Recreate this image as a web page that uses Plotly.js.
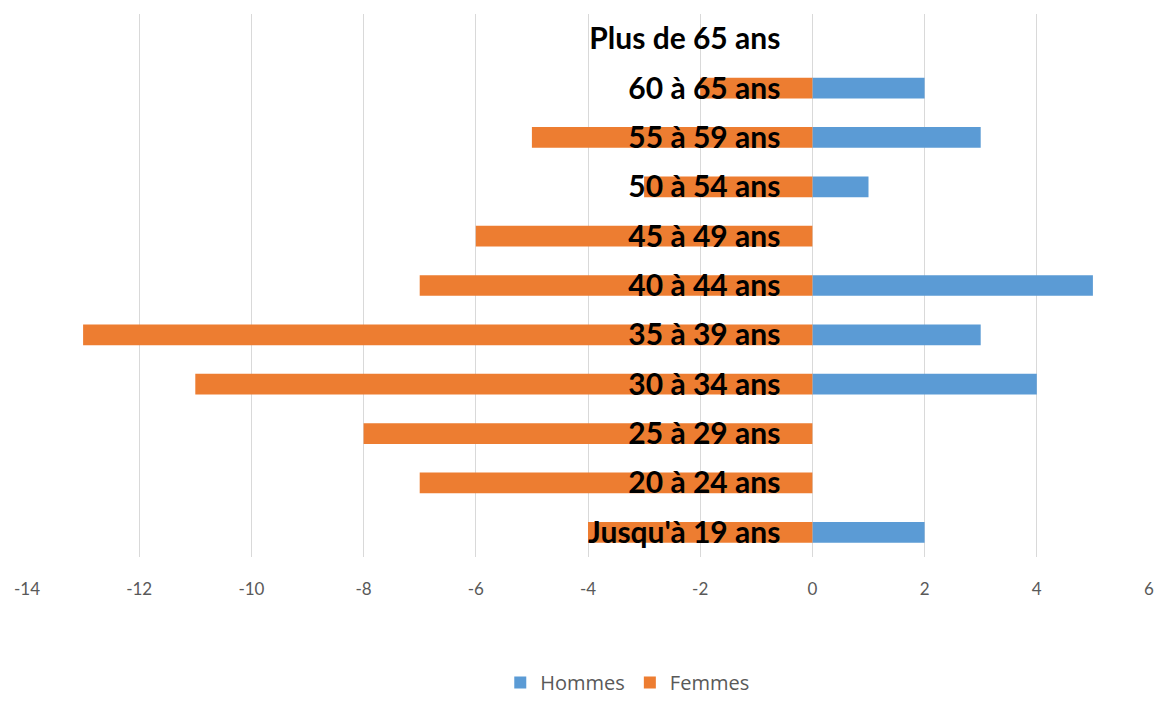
<!DOCTYPE html>
<html>
<head>
<meta charset="utf-8">
<script src="https://cdn.plot.ly/plotly-3.0.1.min.js"></script>
<style>html,body{margin:0;padding:0;background:#fff;}#chart{width:1161px;height:702px;}</style>
</head>
<body>
<div id="chart"></div>
<script>
const categories = ["Jusqu'à 19 ans","20 à 24 ans","25 à 29 ans","30 à 34 ans","35 à 39 ans","40 à 44 ans","45 à 49 ans","50 à 54 ans","55 à 59 ans","60 à 65 ans","Plus de 65 ans"];
const hommes = [2,0,0,4,3,5,0,1,3,2,0];
const femmes = [-4,-7,-8,-11,-13,-7,-6,-3,-5,-2,0];
const xTicks = [-14,-12,-10,-8,-6,-4,-2,0,2,4,6];

const traces = [
  {type:'bar', orientation:'h', name:'Hommes', y:categories, x:hommes, marker:{color:'#5b9bd5'}, hoverinfo:'x+y'},
  {type:'bar', orientation:'h', name:'Femmes', y:categories, x:femmes, marker:{color:'#ed7d31'}, hoverinfo:'x+y'}
];
const layout = {
  width:1161, height:702,
  margin:{l:27, r:12, t:14, b:145, autoexpand:false},
  paper_bgcolor:'#fff', plot_bgcolor:'#fff',
  barmode:'relative', bargap:0.58,
  font:{family:'Lato, "Open Sans", sans-serif', color:'#595959'},
  xaxis:{range:[-14,6], tickvals:xTicks, ticktext:xTicks.map(String), showgrid:true, gridcolor:'#d9d9d9', gridwidth:1,
         zeroline:true, zerolinecolor:'#d9d9d9', zerolinewidth:1, showline:false, ticks:'', ticklabelstandoff:20,
         tickfont:{size:17, color:'#595959'}, fixedrange:true},
  yaxis:{type:'category', categoryorder:'array', categoryarray:categories, anchor:'free', position:0.7, showgrid:false,
         zeroline:false, showline:false, ticks:'', ticklabelstandoff:32, automargin:false,
         tickfont:{size:30, color:'#000000', family:'Lato, sans-serif', weight:'bold'}, fixedrange:true},
  showlegend:true,
  legend:{orientation:'h', x:0.535, xanchor:'center', yref:'container', y:0.0, yanchor:'bottom',
          font:{size:20, color:'#595959', family:'"Open Sans", sans-serif'}, traceorder:'normal'}
};
Plotly.newPlot('chart', traces, layout, {displayModeBar:false, staticPlot:true});
</script>
</body>
</html>
